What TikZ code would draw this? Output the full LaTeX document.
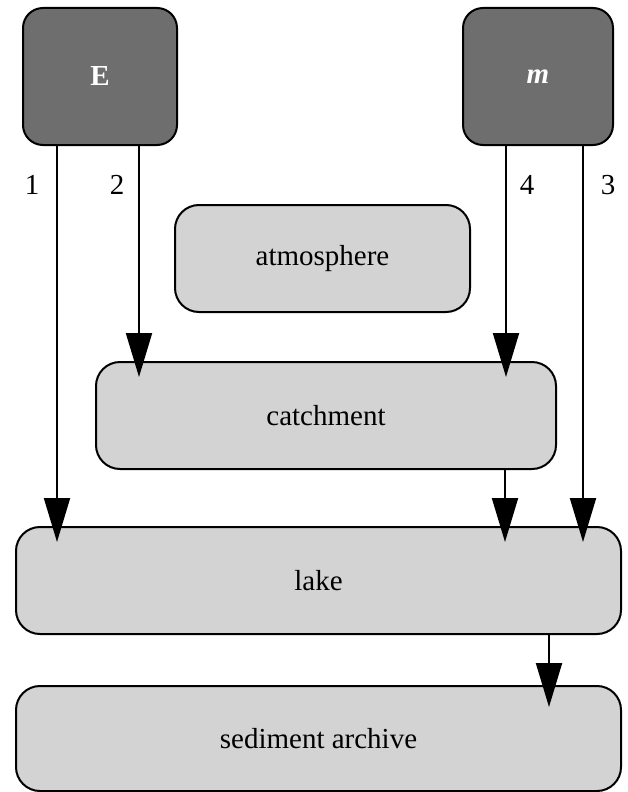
\documentclass[tikz,border=0pt]{standalone}
\usepackage{fontspec}
\setmainfont{Liberation Serif}
\usetikzlibrary{arrows.meta}
\definecolor{srcgray}{HTML}{6E6E6E}
\definecolor{boxgray}{HTML}{D3D3D3}
\tikzset{
	txt/.style={font=\fontsize{29}{34}\selectfont},
	source/.style={txt, draw, line width=2pt, fill=srcgray, text=white, rounded corners=20pt, inner sep=0pt, minimum height=137pt},
	reservoir/.style={txt, draw, line width=2pt, fill=boxgray, rounded corners=24pt, inner sep=0pt, minimum height=107pt},
	flow/.style={line width=2pt, -{Triangle[length=44pt,width=26pt]}}
}
\begin{document}
\begin{tikzpicture}[x=1pt, y=-1pt]
		%%%%% START %%%%%
		\useasboundingbox (0, 0) rectangle (628, 792);
		
		\node[source, minimum width=154pt] (E) at (100, 76.5) {\textbf{E}};
		\node[source, minimum width=150pt] (m) at (538, 76.5) {\textbf{\textit{m}}};
		
		\node[reservoir, minimum width=295pt] (atm) at (322.5, 258.5) {atmosphere};
		\node[reservoir, minimum width=460pt] (catch) at (326, 415.5) {catchment};
		\node[reservoir, minimum width=605pt] (lake) at (318.5, 580.5) {lake};
		\node[reservoir, minimum width=605pt, minimum height=105pt] (sed) at (318.5, 738.5) {sediment archive};
		
		\draw[flow] (E.south -| 57,0) -- ([yshift=-16pt]lake.north -| 57,0);
		\draw[flow] (E.south -| 139,0) -- ([yshift=-16pt]catch.north -| 139,0);
		\draw[flow] (m.south -| 506,0) -- ([yshift=-16pt]catch.north -| 506,0);
		\draw[flow] (m.south -| 583,0) -- ([yshift=-16pt]lake.north -| 583,0);
		\draw[flow] (catch.south -| 505,0) -- ([yshift=-16pt]lake.north -| 505,0);
		\draw[flow] (lake.south -| 549,0) -- ([yshift=-22pt]sed.north -| 549,0);
		
		\node[txt] (n1) at (32, 185) {1};
		\node[txt] (n2) at (117, 185) {2};
		\node[txt] (n4) at (527, 185) {4};
		\node[txt] (n3) at (608, 185) {3};
		%%%%% END %%%%%
	\end{tikzpicture}
\end{document}
